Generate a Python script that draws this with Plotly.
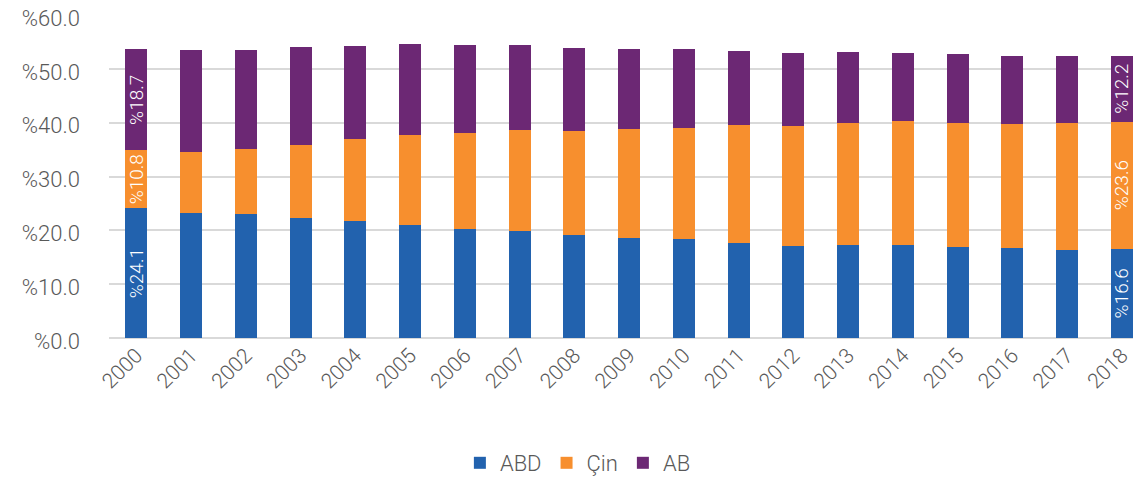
import plotly.graph_objects as go

years = [str(y) for y in range(2000, 2019)]
abd = [24.1, 23.2, 23.0, 22.3, 21.7, 21.0, 20.2, 19.9, 19.2, 18.6, 18.3, 17.7, 17.0, 17.2, 17.2, 16.9, 16.7, 16.4, 16.6]
cin = [10.8, 11.4, 12.2, 13.6, 15.2, 16.7, 17.8, 18.7, 19.2, 20.3, 20.7, 21.8, 22.4, 22.7, 23.1, 23.1, 23.0, 23.5, 23.6]
ab = [18.7, 18.9, 18.3, 18.1, 17.4, 16.9, 16.5, 15.8, 15.5, 14.8, 14.7, 13.8, 13.5, 13.3, 12.6, 12.7, 12.7, 12.5, 12.2]
labeled_years = ["2000", "2018"]

series = [("ABD", abd, "#2262AE"), ("Çin", cin, "#F78F2E"), ("AB", ab, "#6C2874")]

FONT = "Roboto"
fig = go.Figure()
for name, vals, color in series:
    texts = ["%" + f"{v:.1f}" if y in labeled_years else "" for y, v in zip(years, vals)]
    fig.add_trace(go.Bar(
        x=years, y=vals, name=name,
        marker=dict(color=color, line=dict(width=0)),
        text=texts, textposition="inside", textangle=-90,
        insidetextanchor="middle", constraintext="none",
        textfont=dict(color="white", size=19, family=FONT, weight=300),
        hoverinfo="x+y+name",
    ))

fig.update_layout(
    barmode="stack", bargap=0.6,
    width=1133, height=471,
    margin=dict(l=101, r=0, t=7, b=141, autoexpand=False),
    plot_bgcolor="white", paper_bgcolor="white",
    font=dict(family=FONT, color="#595959", size=20, weight=300),
    legend=dict(orientation="h", x=0.34, xanchor="left", y=-0.387, yanchor="middle",
                font=dict(size=22, color="#595959", family=FONT, weight=300),
                traceorder="normal"),
    showlegend=True,
)
fig.update_xaxes(type="category", range=[-0.5, 18.35], tickangle=-45, automargin=False,
                 showgrid=False, showline=False, ticks="",
                 tickfont=dict(size=21, color="#595959", family=FONT, weight=300))
fig.update_yaxes(range=[0, 60], dtick=10, tickprefix="%", tickformat=".1f", automargin=False,
                 showgrid=True, gridcolor="#D9D9D9", gridwidth=1.5,
                 zeroline=True, zerolinecolor="#D9D9D9", zerolinewidth=1.5,
                 ticklabelstandoff=28, ticklabeloverflow="allow", ticklabelshift=3,
                 tickfont=dict(size=22, color="#595959", family=FONT, weight=300))

fig.write_html("out.html")
